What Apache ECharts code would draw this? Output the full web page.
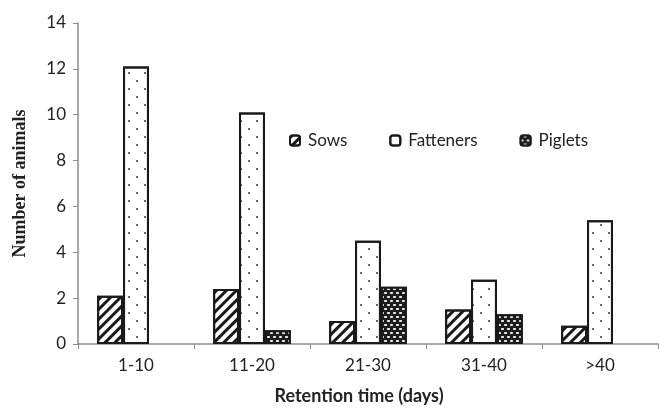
<!DOCTYPE html>
<html>
<head>
<meta charset="utf-8">
<script src="https://cdn.jsdelivr.net/npm/echarts@6/dist/echarts.min.js"></script>
<style>
  html, body { margin: 0; padding: 0; background: #fff; }
  #chart { width: 659px; height: 410px; }
</style>
</head>
<body>
<div id="chart"></div>
<script>
  // retention time groups
  var categories = ["1-10", "11-20", "21-30", "31-40", ">40"];
  var sows = [2.1, 2.4, 1.0, 1.5, 0.8];
  var fatteners = [12.1, 10.1, 4.5, 2.8, 5.4];
  var piglets = [null, 0.6, 2.5, 1.3, null];

  var chart = echarts.init(document.getElementById("chart"));
  var axisGrey = "#8c8c8c";

  var option = {
    backgroundColor: "#fff",
    animation: false,
    aria: { enabled: true, decal: { show: true } },
    grid: { left: 78, right: 1, top: 23, bottom: 65 },
    legend: {
      left: 284,
      top: 127,
      itemWidth: 10,
      itemHeight: 10,
      itemGap: 42,
      textStyle: { fontFamily: "Lato", fontSize: 17, color: "#222", padding: [0, 0, 0, 3] },
      data: ["Sows", "Fatteners", "Piglets"]
    },
    xAxis: {
      type: "category",
      data: categories,
      name: "Retention time (days)",
      nameLocation: "middle",
      nameGap: 43,
      nameTextStyle: { fontFamily: "Lato", fontWeight: "bold", fontSize: 18, color: "#222", padding: [0, 18, 0, 0] },
      axisLine: { lineStyle: { color: axisGrey, width: 1.5 } },
      axisTick: { show: true, length: 5, lineStyle: { color: axisGrey } },
      axisLabel: { fontFamily: "Lato", fontSize: 17, color: "#222", margin: 13 },
      splitLine: { show: false }
    },
    yAxis: {
      type: "value",
      min: 0,
      max: 14,
      interval: 2,
      name: "Number of animals",
      nameLocation: "middle",
      nameGap: 49,
      nameTextStyle: { fontFamily: "Liberation Serif", fontWeight: "bold", fontSize: 18, color: "#222" },
      axisLine: { show: true, lineStyle: { color: axisGrey, width: 1.5 } },
      axisTick: { show: true, length: 5, lineStyle: { color: axisGrey } },
      axisLabel: { fontFamily: "Lato", fontSize: 17, color: "#222", margin: 12 },
      splitLine: { show: false }
    },
    series: [
      {
        name: "Sows",
        type: "bar",
        barGap: "0%",
        barCategoryGap: "33%",
        itemStyle: {
          color: "#fff",
          borderColor: "#1a1a1a",
          borderWidth: 2,
          decal: {
            color: "#1a1a1a",
            symbol: "rect",
            dashArrayX: [[1, 0]],
            dashArrayY: [3, 4],
            rotation: -Math.PI / 4
          }
        },
        data: sows
      },
      {
        name: "Fatteners",
        type: "bar",
        itemStyle: {
          color: "#fff",
          borderColor: "#1a1a1a",
          borderWidth: 2,
          decal: {
            color: "#333",
            symbol: "circle",
            symbolSize: 1,
            dashArrayX: [[2, 14], [0, 8, 2, 6]],
            dashArrayY: [2, 6],
            rotation: 0
          }
        },
        data: fatteners
      },
      {
        name: "Piglets",
        type: "bar",
        itemStyle: {
          color: "#1e1e1e",
          borderColor: "#1a1a1a",
          borderWidth: 2,
          decal: {
            color: "#fff",
            symbol: "rect",
            symbolSize: 0.9,
            dashArrayX: [[3, 3], [0, 3, 3, 0]],
            dashArrayY: [2, 2],
            rotation: 0
          }
        },
        data: piglets
      }
    ]
  };

  chart.setOption(option);
</script>
</body>
</html>
